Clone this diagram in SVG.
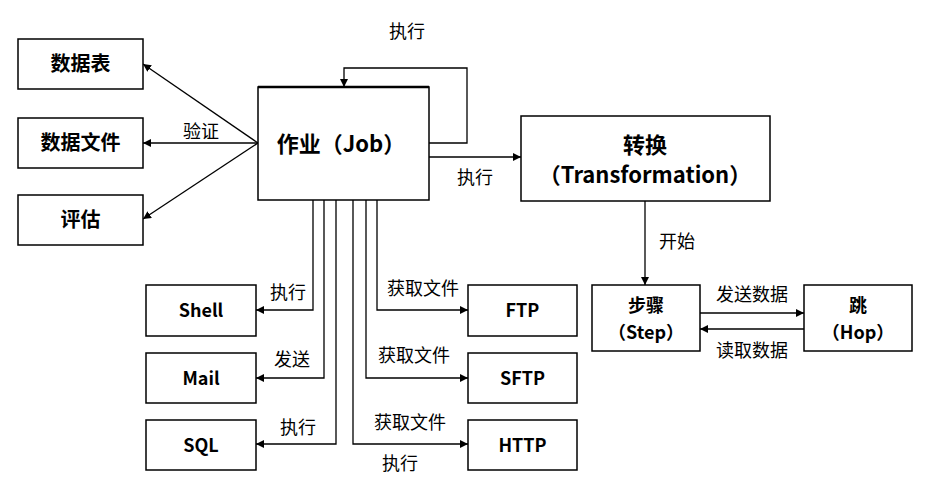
<svg xmlns="http://www.w3.org/2000/svg" width="932" height="492" viewBox="0 0 932 492">
<style>
.box{fill:#fff;stroke:#000;stroke-width:1.5}
.t{font-family:"Noto Sans CJK SC","Liberation Sans",sans-serif;font-weight:bold;font-size:18px;text-anchor:middle;fill:#000}
.cj{font-size:20px}
.big{font-size:22px}
.lbl{font-family:"Noto Sans CJK SC","Liberation Sans",sans-serif;font-size:18px;text-anchor:middle;fill:#000}
.c{fill:none;stroke:#000;stroke-width:1.3}
</style>
<defs>
<marker id="a" viewBox="0 0 10 10" refX="10" refY="5" markerWidth="8" markerHeight="8" markerUnits="userSpaceOnUse" orient="auto">
<path d="M0,0 L10,5 L0,10 z" fill="#000"/>
</marker>
</defs>
<rect width="932" height="492" fill="#fff"/>
<g id="connectors">
<path class="c" d="M258,143 L143,64" marker-end="url(#a)"/>
<path class="c" d="M258,143 L143,143" marker-end="url(#a)"/>
<path class="c" d="M258,143 L143,219" marker-end="url(#a)"/>
<path class="c" d="M429,143 H467 V68 H344 V87" marker-end="url(#a)"/>
<path class="c" d="M429,157 H521" marker-end="url(#a)"/>
<path class="c" d="M645,201 V285" marker-end="url(#a)"/>
<path class="c" d="M700,313 H804" marker-end="url(#a)"/>
<path class="c" d="M804,329 H700" stroke-width="2" marker-end="url(#a)"/>
<path class="c" d="M313,200 V310 H256" marker-end="url(#a)"/>
<path class="c" d="M324,200 V378 H256" marker-end="url(#a)"/>
<path class="c" d="M336,200 V444 H256" marker-end="url(#a)"/>
<path class="c" d="M377,200 V310 H468" marker-end="url(#a)"/>
<path class="c" d="M366,200 V378 H468" marker-end="url(#a)"/>
<path class="c" d="M353,200 V444 H468" marker-end="url(#a)"/>
<text class="lbl" x="201" y="138">验证</text>
<text class="lbl" x="407" y="38">执行</text>
<text class="lbl" x="475" y="184">执行</text>
<text class="lbl" x="677" y="248">开始</text>
<text class="lbl" x="752" y="301">发送数据</text>
<text class="lbl" x="752" y="357">读取数据</text>
<text class="lbl" x="288" y="299">执行</text>
<text class="lbl" x="292" y="366">发送</text>
<text class="lbl" x="298" y="434">执行</text>
<text class="lbl" x="423" y="295">获取文件</text>
<text class="lbl" x="414" y="362">获取文件</text>
<text class="lbl" x="410" y="429">获取文件</text>
<text class="lbl" x="400" y="470">执行</text>
</g>
<g id="n-table"><rect class="box" x="18" y="39" width="125" height="50"/><text class="t cj" x="80.5" y="71">数据表</text></g>
<g id="n-datafile"><rect class="box" x="18" y="118" width="125" height="50"/><text class="t cj" x="80.5" y="150">数据文件</text></g>
<g id="n-eval"><rect class="box" x="18" y="195" width="125" height="50"/><text class="t cj" x="80.5" y="227">评估</text></g>
<g id="n-job"><rect class="box" x="258" y="87" width="171" height="113"/><line x1="258" y1="87" x2="429" y2="87" stroke="#000" stroke-width="2.5"/><text class="t big" x="341" y="152">作业（Job）</text></g>
<g id="n-trans"><rect class="box" x="521" y="116" width="249" height="85"/><text class="t big" x="645" y="153">转换</text><text class="t big" x="645" y="183">（Transformation）</text></g>
<g id="n-step"><rect class="box" x="592" y="285" width="108" height="66"/><text class="t" x="646" y="312">步骤</text><text class="t" x="646" y="339">（Step）</text></g>
<g id="n-hop"><rect class="box" x="804" y="285" width="108" height="66"/><text class="t" x="858" y="312">跳</text><text class="t" x="858" y="339">（Hop）</text></g>
<g id="n-shell"><rect class="box" x="146" y="285" width="110" height="51"/><text class="t" x="201" y="317">Shell</text></g>
<g id="n-mail"><rect class="box" x="146" y="353" width="110" height="50"/><text class="t" x="201" y="385">Mail</text></g>
<g id="n-sql"><rect class="box" x="146" y="420" width="110" height="50"/><text class="t" x="201" y="452">SQL</text></g>
<g id="n-ftp"><rect class="box" x="468" y="285" width="109" height="51"/><text class="t" x="522.5" y="317">FTP</text></g>
<g id="n-sftp"><rect class="box" x="468" y="353" width="109" height="50"/><text class="t" x="522.5" y="385">SFTP</text></g>
<g id="n-http"><rect class="box" x="468" y="420" width="109" height="50"/><text class="t" x="522.5" y="452">HTTP</text></g>
</svg>
